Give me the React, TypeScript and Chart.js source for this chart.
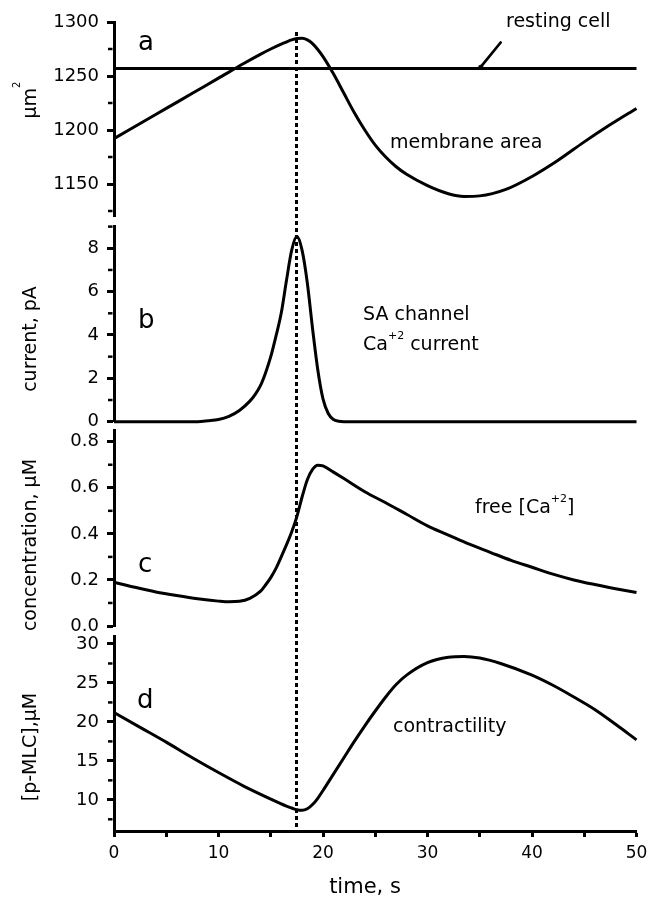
import React, { useEffect, useRef } from "react";
import { Chart, registerables } from "chart.js";

Chart.register(...registerables);

// ---------------- data ----------------
const timeMin = 0;
const timeMax = 50;
const timeTicks = [0, 5, 10, 15, 20, 25, 30, 35, 40, 45, 50];
const markerTime = 17.5;

// panel a: membrane area (µm²)
const areaTime = [0, 2.5, 5, 7.5, 10, 12.5, 14, 15, 16, 17, 17.5, 18, 18.5, 19, 20, 21, 22, 23, 24, 25, 26, 27, 28, 30, 32, 33.5, 35, 37.5, 40, 42.5, 45, 47.5, 50];
const areaValues = [1192, 1206, 1220, 1234, 1248, 1262, 1270, 1275, 1279.5, 1283.5, 1284.8, 1285, 1283.5, 1280, 1268, 1252, 1234, 1216, 1200, 1186, 1175, 1166, 1159, 1148.5, 1141, 1138.5, 1139, 1145, 1157, 1172, 1189, 1205, 1220];
const restingArea = 1257;
const areaTicks = [1150, 1200, 1250, 1300];
const areaMinorTicks = [1125, 1175, 1225, 1275];

// panel b: SA channel Ca current (pA)
const currentTime = [0, 5, 8, 9, 10, 11, 12, 13, 13.5, 14, 14.5, 15, 15.5, 16, 16.5, 17, 17.5, 18, 18.5, 19, 19.5, 20, 20.5, 21, 21.5, 22, 30, 40, 50];
const currentValues = [0, 0, 0, 0.04, 0.1, 0.25, 0.52, 0.95, 1.25, 1.65, 2.25, 3.0, 3.95, 5.0, 6.5, 7.9, 8.55, 7.9, 6.4, 4.3, 2.4, 1.05, 0.38, 0.1, 0.02, 0, 0, 0, 0];
const currentTicks = [0, 2, 4, 6, 8];
const currentMinorTicks = [1, 3, 5, 7, 9];

// panel c: free Ca concentration (µM)
const caTime = [0, 2, 4, 6, 8, 10, 11, 12, 13, 14, 14.5, 15, 15.5, 16, 16.5, 17, 17.5, 18, 18.5, 19, 19.5, 20, 21, 22, 24, 26, 28, 30, 32, 34, 36, 38, 40, 42, 44, 46, 48, 50];
const caValues = [0.19, 0.168, 0.148, 0.132, 0.118, 0.108, 0.105, 0.107, 0.12, 0.15, 0.178, 0.21, 0.25, 0.3, 0.352, 0.408, 0.475, 0.56, 0.635, 0.68, 0.698, 0.695, 0.668, 0.64, 0.583, 0.535, 0.485, 0.435, 0.395, 0.355, 0.32, 0.285, 0.255, 0.225, 0.2, 0.18, 0.162, 0.145];
const caTicks = [0, 0.2, 0.4, 0.6, 0.8];
const caMinorTicks = [0.1, 0.3, 0.5, 0.7];

// panel d: p-MLC contractility (µM)
const mlcTime = [0, 2.5, 5, 7.5, 10, 12.5, 15, 16.5, 17, 17.5, 18, 18.5, 19, 19.5, 20, 21, 22, 23, 24, 25, 26, 27, 28, 30, 32, 33.5, 35, 37, 40, 42, 44, 46, 48, 50];
const mlcValues = [21.2, 19.3, 17.4, 15.4, 13.5, 11.7, 10.1, 9.2, 8.95, 8.72, 8.65, 8.85, 9.4, 10.2, 11.2, 13.3, 15.4, 17.5, 19.5, 21.4, 23.2, 24.8, 26.0, 27.6, 28.3, 28.4, 28.2, 27.5, 26.0, 24.7, 23.2, 21.6, 19.7, 17.7];
const mlcTicks = [10, 15, 20, 25, 30];
const mlcMinorTicks = [7.5, 12.5, 17.5, 22.5, 27.5];

// resting-cell arrow (data coordinates of panel a)
const arrowFrom = { x: 37, y: 1281 };
const arrowTo = { x: 35.1, y: 1258.5 };

// ---------------- layout ----------------
const W = 656;
const H = 901;
const FONT = "'DejaVu Sans', Verdana, sans-serif";
const PLOT_LEFT = 114;
const PLOT_RIGHT = 636.5;

type Part = [string, boolean];

function drawRich(
  ctx: CanvasRenderingContext2D,
  parts: Part[],
  x: number,
  y: number,
  size: number,
  align: "left" | "center",
  supSize = 10,
  supRaise = 11
) {
  const main = `${size}px ${FONT}`;
  const sup = `${supSize}px ${FONT}`;
  let w = 0;
  for (const [t, s] of parts) {
    ctx.font = s ? sup : main;
    w += ctx.measureText(t).width;
  }
  let cx = align === "center" ? x - w / 2 : x;
  ctx.textAlign = "left";
  ctx.textBaseline = "alphabetic";
  ctx.fillStyle = "#000";
  for (const [t, s] of parts) {
    ctx.font = s ? sup : main;
    ctx.fillText(t, cx, s ? y - supRaise : y);
    cx += ctx.measureText(t).width;
  }
}

const zip = (xs: number[], ys: number[]) => xs.map((x, i) => ({ x, y: ys[i] }));

interface Note { parts: Part[]; x: number; y: number; size: number; supSize?: number; supRaise?: number }
interface Panel {
  top: number;
  bottom: number;
  yMin: number;
  yMax: number;
  ticks: number[];
  minor: number[];
  fmt: (v: number) => string;
  series: { x: number; y: number }[][];
  title: { parts: Part[]; cy: number; supSize?: number; supRaise?: number };
  notes: Note[];
}

const panels: Panel[] = [
  {
    top: 22, bottom: 216.4, yMin: 1120, yMax: 1300,
    ticks: areaTicks, minor: areaMinorTicks, fmt: (v) => String(v),
    series: [zip(areaTime, areaValues), [{ x: timeMin, y: restingArea }, { x: timeMax, y: restingArea }]],
    title: { parts: [["μm", false], ["2", true]], cy: 100, supSize: 10, supRaise: 16 },
    notes: [
      { parts: [["a", false]], x: 138, y: 50, size: 26 },
      { parts: [["resting cell", false]], x: 506, y: 27, size: 19 },
      { parts: [["membrane area", false]], x: 390, y: 148, size: 19 },
    ],
  },
  {
    top: 226.6, bottom: 421.7, yMin: 0, yMax: 9,
    ticks: currentTicks, minor: currentMinorTicks, fmt: (v) => String(v),
    series: [zip(currentTime, currentValues)],
    title: { parts: [["current, pA", false]], cy: 339 },
    notes: [
      { parts: [["b", false]], x: 138, y: 328, size: 26 },
      { parts: [["SA channel", false]], x: 363, y: 320, size: 19 },
      { parts: [["Ca", false], ["+2", true], [" current", false]], x: 363, y: 350, size: 19, supSize: 11, supRaise: 11 },
    ],
  },
  {
    top: 430.2, bottom: 626, yMin: 0, yMax: 0.85,
    ticks: caTicks, minor: caMinorTicks, fmt: (v) => v.toFixed(1),
    series: [zip(caTime, caValues)],
    title: { parts: [["concentration, μM", false]], cy: 545 },
    notes: [
      { parts: [["c", false]], x: 138, y: 572, size: 26 },
      { parts: [["free [Ca", false], ["+2", true], ["]", false]], x: 475, y: 513, size: 19, supSize: 11, supRaise: 11 },
    ],
  },
  {
    top: 636.2, bottom: 831, yMin: 6, yMax: 31,
    ticks: mlcTicks, minor: mlcMinorTicks, fmt: (v) => String(v),
    series: [zip(mlcTime, mlcValues)],
    title: { parts: [["[p-MLC],μM", false]], cy: 747 },
    notes: [
      { parts: [["d", false]], x: 137, y: 708, size: 26 },
      { parts: [["contractility", false]], x: 393, y: 732, size: 19 },
    ],
  },
];

const xTitle: Part[] = [["time, s", false]];

export default function App() {
  const refs = useRef<(HTMLCanvasElement | null)[]>([]);

  useEffect(() => {
    const charts: Chart[] = [];
    panels.forEach((p, idx) => {
      const canvas = refs.current[idx];
      if (!canvas) return;
      const isLast = idx === panels.length - 1;
      const isFirst = idx === 0;

      const decor = {
        id: "decor" + idx,
        afterDraw(chart: any) {
          const ctx: CanvasRenderingContext2D = chart.ctx;
          const ys = chart.scales.y;
          const xs = chart.scales.x;
          ctx.save();
          // minor ticks
          ctx.strokeStyle = "#000";
          ctx.lineWidth = 2.5;
          for (const v of p.minor) {
            const py = ys.getPixelForValue(v);
            ctx.beginPath();
            ctx.moveTo(PLOT_LEFT - 1.5, py);
            ctx.lineTo(PLOT_LEFT - 6, py);
            ctx.stroke();
          }
          // y title
          ctx.save();
          ctx.translate(35.5, p.title.cy);
          ctx.rotate(-Math.PI / 2);
          drawRich(ctx, p.title.parts, 0, 0, 19, "center", p.title.supSize ?? 11, p.title.supRaise ?? 11);
          ctx.restore();
          // notes
          for (const n of p.notes) drawRich(ctx, n.parts, n.x, n.y, n.size, "left", n.supSize, n.supRaise);
          // arrow
          if (isFirst) {
            const x1 = xs.getPixelForValue(arrowFrom.x);
            const y1 = ys.getPixelForValue(arrowFrom.y);
            const x2 = xs.getPixelForValue(arrowTo.x);
            const y2 = ys.getPixelForValue(arrowTo.y);
            ctx.lineWidth = 2.7;
            ctx.lineCap = "round";
            ctx.beginPath();
            ctx.moveTo(x1, y1);
            ctx.lineTo(x2, y2);
            ctx.stroke();
            ctx.fillStyle = "#000";
            ctx.beginPath();
            ctx.arc(x2, y2 + 0.5, 2.6, 0, Math.PI * 2);
            ctx.fill();
            ctx.lineCap = "butt";
          }
          if (isLast) {
            // x title
            drawRich(ctx, xTitle, 365, 893, 21, "center");
            // dashed marker line across all panels
            const a = charts[0];
            const mi = areaTime.indexOf(markerTime);
            const topY = a ? a.scales.y.getPixelForValue(areaValues[mi]) - 6 : chart.chartArea.top;
            const mx = Math.round(xs.getPixelForValue(markerTime) - 0.5) + 0.5;
            ctx.setLineDash([4, 3]);
            ctx.lineWidth = 3;
            ctx.beginPath();
            ctx.moveTo(mx, Math.round(topY));
            ctx.lineTo(mx, chart.chartArea.bottom - 1.5);
            ctx.stroke();
          }
          ctx.restore();
        },
      };

      const chart = new Chart(canvas, {
        type: "line",
        data: {
          datasets: p.series.map((s) => ({
            data: s,
            borderColor: "#000",
            borderWidth: 3,
            pointRadius: 0,
            fill: false,
            clip: 4,
            cubicInterpolationMode: "monotone" as const,
          })),
        },
        options: {
          animation: false,
          responsive: false,
          maintainAspectRatio: false,
          events: [],
          layout: {
            padding: { top: p.top, bottom: isLast ? 0 : H - p.bottom, left: 0, right: W - PLOT_RIGHT },
          },
          plugins: { legend: { display: false }, tooltip: { enabled: false }, title: { display: false } },
          scales: {
            x: {
              type: "linear",
              min: timeMin,
              max: timeMax,
              display: isLast,
              position: "bottom",
              afterFit: (s: any) => {
                s.height = isLast ? H - p.bottom : 0;
              },
              afterBuildTicks: (s: any) => {
                s.ticks = timeTicks.map((v) => ({ value: v }));
              },
              ticks: {
                callback: (v: any) => (Number(v) % 10 === 0 ? String(v) : ""),
                font: { family: FONT, size: 17 },
                color: "#000",
                padding: 6,
                maxRotation: 0,
                autoSkip: false,
              },
              grid: { drawOnChartArea: false, drawTicks: true, tickLength: 6, tickWidth: 3, tickColor: "#000" },
              border: { display: true, color: "#000", width: 3 },
            },
            y: {
              type: "linear",
              min: p.yMin,
              max: p.yMax,
              position: "left",
              afterFit: (s: any) => {
                s.width = PLOT_LEFT;
              },
              afterBuildTicks: (s: any) => {
                s.ticks = p.ticks.map((v) => ({ value: v }));
              },
              ticks: {
                callback: (v: any) => p.fmt(Number(v)),
                font: { family: FONT, size: 18 },
                color: "#000",
                padding: 8,
                autoSkip: false,
              },
              grid: { drawOnChartArea: false, drawTicks: true, tickLength: 7, tickWidth: 3, tickColor: "#000" },
              border: { display: true, color: "#000", width: 3 },
            },
          },
        } as any,
        plugins: [decor],
      });
      charts.push(chart);
    });
    return () => {
      charts.forEach((c) => c.destroy());
    };
  }, []);

  return (
    <div style={{ position: "absolute", left: 0, top: 0, width: W, height: H, background: "#fff" }}>
      {panels.map((_, i) => (
        <canvas
          key={i}
          ref={(el) => {
            refs.current[i] = el;
          }}
          width={W}
          height={H}
          style={{ position: "absolute", left: 0, top: 0, width: W, height: H }}
        />
      ))}
    </div>
  );
}
